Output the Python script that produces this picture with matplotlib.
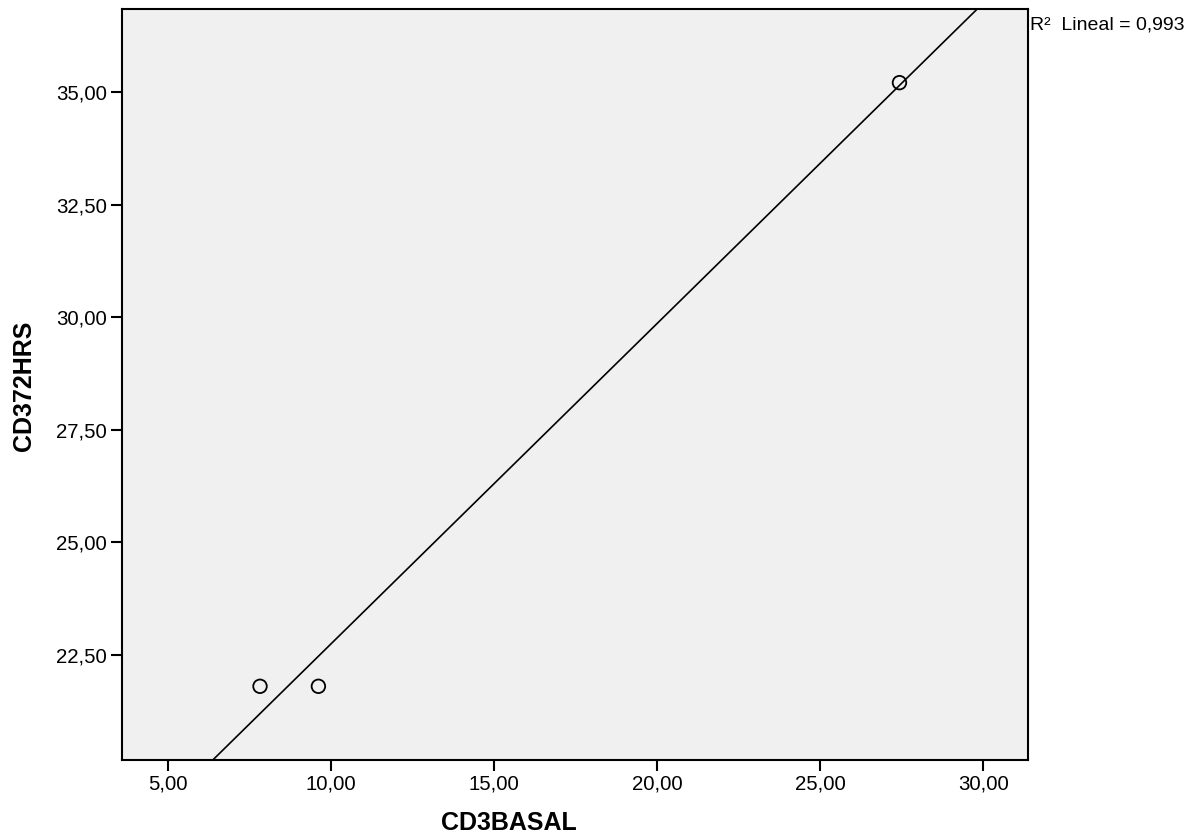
import numpy as np
import matplotlib
matplotlib.use("Agg")
import matplotlib.pyplot as plt

plt.rcParams['font.family'] = ['Liberation Sans', 'DejaVu Sans']

# data
cd3basal = [7.83, 9.62, 27.43]
cd372hrs = [21.80, 21.80, 35.21]
x_ticks = [5, 10, 15, 20, 25, 30]
y_ticks = [22.5, 25, 27.5, 30, 32.5, 35]

def comma(v):
    return f"{v:.2f}".replace(".", ",")

fig = plt.figure(figsize=(12.04, 8.36), dpi=100)
ax = fig.add_axes([0.1016, 0.0913, 0.7525, 0.8976])
ax.set_facecolor("#f0f0f0")

# linear fit line across the whole axis
slope, inter = np.polyfit(cd3basal, cd372hrs, 1)
xs = np.array([3.0, 32.0])
ax.plot(xs, slope * xs + inter, color="black", lw=1.2)

ax.scatter(cd3basal, cd372hrs, s=95, facecolors="none", edgecolors="black",
           linewidths=1.3, zorder=3)

ax.set_xlim(3.61, 31.38)
ax.set_ylim(20.17, 36.84)
ax.set_xticks(x_ticks)
ax.set_yticks(y_ticks)
ax.set_xticklabels([comma(v) for v in x_ticks])
ax.set_yticklabels([comma(v) for v in y_ticks])
ax.tick_params(axis="both", direction="out", length=8, width=1.5,
               labelsize=14.7, color="black", pad=3)

for sp in ax.spines.values():
    sp.set_linewidth(1.5)
    sp.set_color("black")

fig.text(0.4228, 0.016, "CD3BASAL", fontsize=18, fontweight="bold",
         ha="center", va="center")
fig.text(0.020, 0.538, "CD372HRS", fontsize=18, fontweight="bold",
         rotation=90, ha="center", va="center")

r2 = np.corrcoef(cd3basal, cd372hrs)[0, 1] ** 2
fig.text(0.8555, 0.9695, "R²  Lineal = " + f"{r2:.3f}".replace(".", ","),
         fontsize=14, ha="left", va="center")

fig.savefig("out.png", dpi=100)
